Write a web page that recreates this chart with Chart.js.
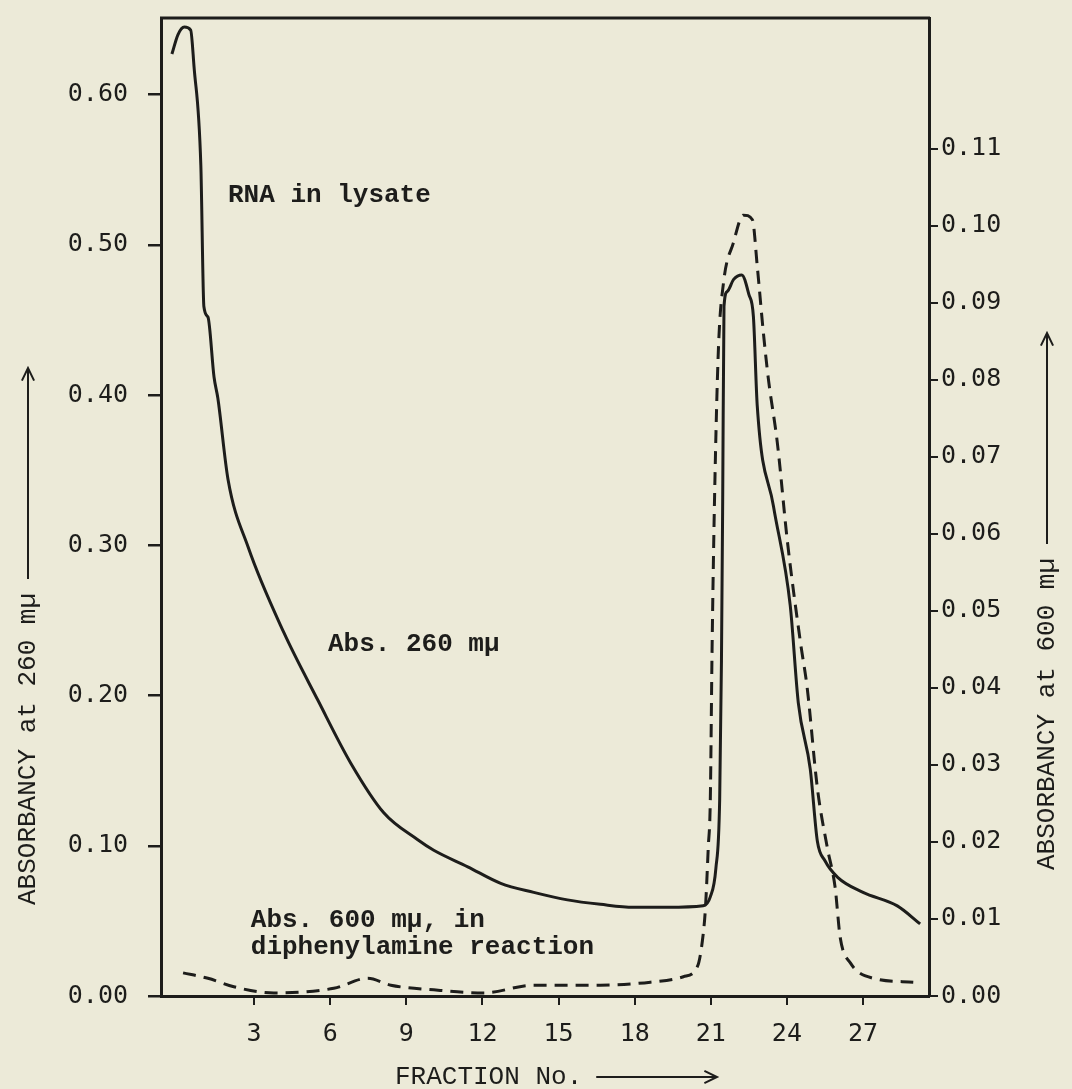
<!DOCTYPE html>
<html>
<head>
<meta charset="utf-8">
<title>Absorbancy by fraction</title>
<script src="https://cdn.jsdelivr.net/npm/chart.js@4.4.0/dist/chart.umd.min.js"></script>
<style>
  html, body { margin: 0; padding: 0; background: #ecead8; }
  #wrap { width: 1072px; height: 1089px; }
</style>
</head>
<body>
<div id="wrap"><canvas id="fracChart" width="1072" height="1089"></canvas></div>
<script>
// Abs. 260 mu (left axis)
const abs260X = [-0.24, 0.0, 0.25, 0.5, 0.63, 0.9, 1.02, 1.18, 1.42, 1.57, 1.97, 2.76, 4.17, 5.51, 6.81, 8.11, 9.45, 10.08, 11.42, 12.72, 14.02, 15.35, 16.65, 17.95, 19.29, 20.7, 20.98, 21.2, 21.35, 21.42, 21.47, 21.52, 21.65, 21.9, 22.22, 22.5, 22.68, 22.83, 23.47, 24.13, 24.45, 24.92, 25.2, 25.5, 26.0, 27.0, 28.35, 29.25];
const abs260Y = [0.627, 0.640, 0.645, 0.643, 0.619, 0.553, 0.459, 0.452, 0.412, 0.398, 0.344, 0.299, 0.242, 0.197, 0.155, 0.122, 0.104, 0.097, 0.086, 0.075, 0.069, 0.064, 0.061, 0.059, 0.059, 0.060, 0.066, 0.085, 0.131, 0.223, 0.334, 0.459, 0.469, 0.477, 0.480, 0.467, 0.452, 0.393, 0.326, 0.260, 0.195, 0.151, 0.103, 0.090, 0.079, 0.069, 0.060, 0.048];

// Abs. 600 mu, diphenylamine reaction (right axis)
const abs600X = [0.2, 1.18, 2.2, 3.78, 6.14, 7.48, 8.39, 10.08, 12.05, 14.0, 16.65, 18.62, 19.92, 20.47, 20.67, 20.79, 20.9, 20.98, 21.05, 21.15, 21.3, 21.5, 21.89, 22.28, 22.64, 22.83, 23.07, 23.27, 23.62, 24.02, 24.53, 24.8, 25.2, 25.59, 25.9, 26.1, 26.5, 27.4, 28.98];
const abs600Y = [0.0030, 0.0023, 0.0012, 0.0004, 0.0010, 0.0023, 0.0014, 0.0008, 0.0004, 0.0014, 0.0014, 0.0018, 0.0025, 0.0038, 0.0072, 0.0115, 0.0193, 0.0254, 0.045, 0.065, 0.084, 0.0926, 0.0978, 0.1014, 0.1008, 0.0948, 0.0862, 0.0801, 0.0719, 0.059, 0.046, 0.040, 0.027, 0.0193, 0.0141, 0.0076, 0.0043, 0.0023, 0.0018];

const fractionTicks = [3, 6, 9, 12, 15, 18, 21, 24, 27];
const leftTicks = [0, 0.1, 0.2, 0.3, 0.4, 0.5, 0.6];
const rightTicks = [0, 0.01, 0.02, 0.03, 0.04, 0.05, 0.06, 0.07, 0.08, 0.09, 0.10, 0.11];

// text written on the plot, anchored in data units (left axis)
const notes = [
  { text: 'RNA in lysate', x: 1.97, y: 0.533 },
  { text: 'Abs. 260 mµ', x: 5.91, y: 0.234 },
  { text: 'Abs. 600 mµ, in', x: 2.87, y: 0.0506 },
  { text: 'diphenylamine reaction', x: 2.87, y: 0.032 }
];

const ink = '#1d1d1b';
const paper = '#ecead8';
const typeFont = "'Liberation Mono', 'DejaVu Sans Mono', monospace";
const tickFont = { family: "'DejaVu Sans Mono', monospace", size: 25 };

function toPoints(xs, ys) {
  return xs.map((x, i) => ({ x: x, y: ys[i] }));
}

function noPad(s) {
  s.paddingTop = 0;
  s.paddingBottom = 0;
  s.paddingLeft = 0;
  s.paddingRight = 0;
}

function drawArrow(ctx, x1, y1, x2, y2) {
  const a = Math.atan2(y2 - y1, x2 - x1);
  ctx.beginPath();
  ctx.moveTo(x1, y1);
  ctx.lineTo(x2, y2);
  ctx.moveTo(x2 - 14 * Math.cos(a - 0.45), y2 - 14 * Math.sin(a - 0.45));
  ctx.lineTo(x2, y2);
  ctx.lineTo(x2 - 14 * Math.cos(a + 0.45), y2 - 14 * Math.sin(a + 0.45));
  ctx.stroke();
}

function drawVerticalTitle(ctx, text, cx, bottom, arrowTop) {
  ctx.save();
  ctx.translate(cx, bottom);
  ctx.rotate(-Math.PI / 2);
  ctx.textAlign = 'left';
  ctx.textBaseline = 'middle';
  ctx.fillText(text, 0, 0);
  const w = ctx.measureText(text).width;
  ctx.restore();
  drawArrow(ctx, cx, bottom - w - 14, cx, arrowTop);
}

const decorPlugin = {
  id: 'decor',
  beforeDraw(chart) {
    const ctx = chart.ctx;
    ctx.save();
    ctx.fillStyle = paper;
    ctx.fillRect(0, 0, chart.width, chart.height);
    ctx.restore();
  },
  afterDraw(chart) {
    const ctx = chart.ctx;
    const area = chart.chartArea;
    const sx = chart.scales.x;
    const sy = chart.scales.y;
    ctx.save();
    ctx.strokeStyle = ink;
    ctx.fillStyle = ink;
    ctx.lineWidth = 3;
    // top edge of the frame
    ctx.beginPath();
    ctx.moveTo(area.left - 1, area.top);
    ctx.lineTo(area.right + 1, area.top);
    ctx.stroke();

    ctx.font = 'bold 26px ' + typeFont;
    ctx.textAlign = 'left';
    ctx.textBaseline = 'middle';
    for (const n of notes) {
      ctx.fillText(n.text, sx.getPixelForValue(n.x), sy.getPixelForValue(n.y));
    }

    ctx.font = '26px ' + typeFont;
    ctx.lineWidth = 2;
    drawVerticalTitle(ctx, 'ABSORBANCY at 260 mµ', 28, 905, 368);
    drawVerticalTitle(ctx, 'ABSORBANCY at 600 mµ', 1047, 870, 333);

    const t = 'FRACTION No.';
    ctx.textAlign = 'left';
    ctx.fillText(t, 395, 1077);
    const w = ctx.measureText(t).width;
    drawArrow(ctx, 395 + w + 14, 1077, 717, 1077);
    ctx.restore();
  }
};

function initChart() {
  const el = document.getElementById('fracChart');
  new Chart(el, {
    type: 'line',
    data: {
      datasets: [
        {
          label: 'Abs. 260 mµ',
          data: toPoints(abs260X, abs260Y),
          yAxisID: 'y',
          borderColor: ink,
          borderWidth: 3,
          pointRadius: 0,
          cubicInterpolationMode: 'monotone',
          fill: false
        },
        {
          label: 'Abs. 600 mµ',
          data: toPoints(abs600X, abs600Y),
          yAxisID: 'y2',
          borderColor: ink,
          borderWidth: 3,
          borderDash: [13, 8],
          pointRadius: 0,
          cubicInterpolationMode: 'monotone',
          fill: false
        }
      ]
    },
    options: {
      responsive: false,
      devicePixelRatio: 1,
      animation: false,
      layout: { padding: { top: 18, left: 0, right: 0, bottom: 0 } },
      plugins: { legend: { display: false }, tooltip: { enabled: false } },
      scales: {
        x: {
          type: 'linear',
          position: 'bottom',
          min: -0.67,
          max: 29.6,
          afterBuildTicks: s => { s.ticks = fractionTicks.map(v => ({ value: v })); },
          afterFit: s => { s.height = 93; noPad(s); },
          ticks: { color: ink, font: tickFont, padding: 14, maxRotation: 0, autoSkip: false, callback: v => String(v) },
          grid: { drawOnChartArea: false, drawTicks: true, tickLength: 9, color: ink, lineWidth: 2 },
          border: { display: true, color: ink, width: 3 }
        },
        y: {
          position: 'left',
          min: 0,
          max: 0.651,
          afterBuildTicks: s => { s.ticks = leftTicks.map(v => ({ value: v })); },
          afterFit: s => { s.width = 161; noPad(s); },
          ticks: { color: ink, font: tickFont, padding: 20, callback: v => v.toFixed(2) },
          grid: { drawOnChartArea: false, drawTicks: true, tickLength: 13, color: ink, lineWidth: 2.5 },
          border: { display: true, color: ink, width: 3 }
        },
        y2: {
          position: 'right',
          min: 0,
          max: 0.127,
          afterBuildTicks: s => { s.ticks = rightTicks.map(v => ({ value: v })); },
          afterFit: s => { s.width = 143; noPad(s); },
          ticks: { color: ink, font: tickFont, padding: 3, callback: v => v.toFixed(2) },
          grid: { drawOnChartArea: false, drawTicks: true, tickLength: 9, color: ink, lineWidth: 2 },
          border: { display: true, color: ink, width: 3 }
        }
      }
    },
    plugins: [decorPlugin]
  });
}

if (document.readyState === 'loading') {
  document.addEventListener('DOMContentLoaded', initChart);
} else {
  initChart();
}
</script>
</body>
</html>
